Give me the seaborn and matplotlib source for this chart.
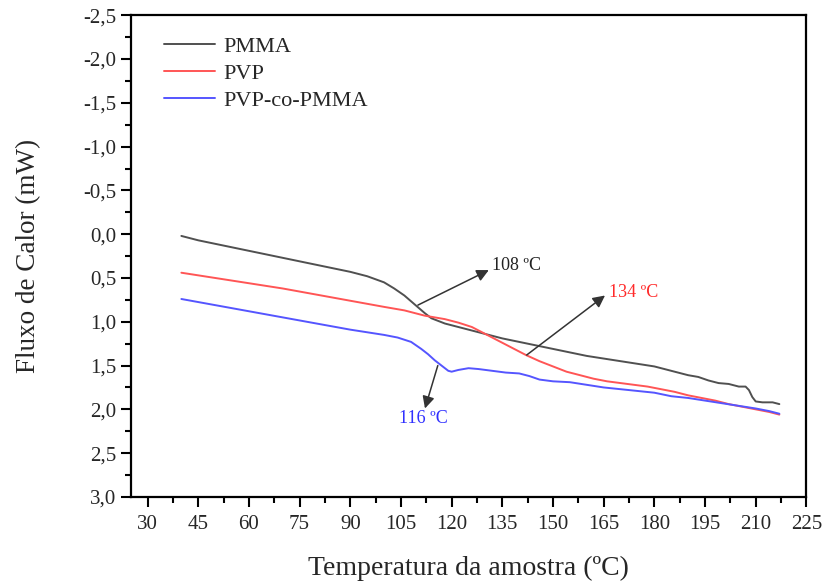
import numpy as np
import pandas as pd
import matplotlib
matplotlib.use("Agg")
import matplotlib.pyplot as plt
import seaborn as sns

# Dados (temperatura em ºC, fluxo de calor em mW)
t_pmma = [40, 45, 50, 55, 60, 65, 70, 75, 80, 85, 90, 95, 100, 103, 106, 109, 112, 114,
          116, 118, 120, 125, 130, 135, 140, 145, 150, 155, 160, 165, 170, 175, 180, 185,
          190, 193, 196, 199, 202, 205, 207, 208, 209, 210, 212, 215, 217]
y_pmma = [0.02, 0.07, 0.11, 0.15, 0.19, 0.23, 0.27, 0.31, 0.35, 0.39, 0.43, 0.48, 0.55,
          0.62, 0.70, 0.80, 0.90, 0.96, 0.99, 1.02, 1.04, 1.09, 1.14, 1.19, 1.23, 1.27,
          1.31, 1.35, 1.39, 1.42, 1.45, 1.48, 1.51, 1.56, 1.61, 1.63, 1.67, 1.70, 1.71,
          1.74, 1.74, 1.78, 1.86, 1.91, 1.92, 1.92, 1.94]

t_pvp = [40, 50, 60, 70, 80, 90, 100, 106, 112, 118, 122, 126, 130, 134, 138, 142, 146,
         150, 154, 158, 162, 166, 170, 174, 178, 182, 186, 190, 194, 198, 202, 206, 210,
         214, 217]
y_pvp = [0.44, 0.50, 0.56, 0.62, 0.69, 0.76, 0.83, 0.87, 0.93, 0.97, 1.01, 1.06, 1.14,
         1.22, 1.30, 1.38, 1.45, 1.51, 1.57, 1.61, 1.65, 1.68, 1.70, 1.72, 1.74, 1.77,
         1.80, 1.84, 1.87, 1.90, 1.94, 1.97, 2.00, 2.03, 2.06]

t_co = [40, 50, 60, 70, 80, 90, 100, 104, 108, 111, 113, 115, 117, 119, 120, 122, 125,
        128, 132, 136, 140, 143, 146, 150, 155, 160, 165, 170, 175, 180, 185, 190, 195,
        200, 205, 210, 214, 217]
y_co = [0.74, 0.81, 0.88, 0.95, 1.02, 1.09, 1.15, 1.18, 1.23, 1.31, 1.37, 1.44, 1.50,
        1.56, 1.57, 1.55, 1.53, 1.54, 1.56, 1.58, 1.59, 1.62, 1.66, 1.68, 1.69, 1.72,
        1.75, 1.77, 1.79, 1.81, 1.85, 1.87, 1.90, 1.93, 1.96, 1.99, 2.02, 2.05]

series_names = ["PMMA", "PVP", "PVP-co-PMMA"]
series_colors = ["#505050", "#ff5555", "#5555ff"]

x_ticks = list(range(30, 226, 15))
y_ticks = [-2.5, -2.0, -1.5, -1.0, -0.5, 0.0, 0.5, 1.0, 1.5, 2.0, 2.5, 3.0]
y_ticklabels = ["-2,5", "-2,0", "-1,5", "-1,0", "-0,5", "0,0", "0,5", "1,0", "1,5",
                "2,0", "2,5", "3,0"]

# anotações: texto, posição do texto, ponta da seta, cauda da seta, cor
ann_labels = ["108 ºC", "134 ºC", "116 ºC"]
ann_text_xy = [(132.0, 0.36), (166.5, 0.67), (111.5, 2.10)]
ann_head_xy = [(131.0, 0.41), (165.4, 0.70), (112.1, 1.99)]
ann_tail_xy = [(110.0, 0.81), (142.2, 1.38), (115.9, 1.50)]
ann_colors = ["#222222", "#ff2a2a", "#3030ff"]
ann_ha = ["left", "left", "center"]

sns.set_style("ticks")
plt.rcParams["font.family"] = ["Liberation Serif", "DejaVu Serif"]

fig = plt.figure(figsize=(8.22, 5.86), dpi=100)
ax = fig.add_axes([0.159, 0.152, 0.822, 0.822])

df = pd.concat([
    pd.DataFrame({"T": t_pmma, "y": y_pmma, "amostra": "PMMA"}),
    pd.DataFrame({"T": t_pvp, "y": y_pvp, "amostra": "PVP"}),
    pd.DataFrame({"T": t_co, "y": y_co, "amostra": "PVP-co-PMMA"}),
])

sns.lineplot(data=df, x="T", y="y", hue="amostra", hue_order=series_names,
             palette=dict(zip(series_names, series_colors)), estimator=None,
             sort=False, linewidth=1.4, ax=ax)

for lab, txy, hxy, sxy, col, ha in zip(ann_labels, ann_text_xy, ann_head_xy,
                                       ann_tail_xy, ann_colors, ann_ha):
    ax.annotate("", xy=hxy, xytext=sxy,
                arrowprops=dict(arrowstyle="-|>", color="#333333", lw=1.1,
                                mutation_scale=18, shrinkA=0, shrinkB=0))
    ax.text(txy[0], txy[1], lab, color=col, fontsize=13, ha=ha, va="center")

ax.set_xlim(25, 225)
ax.set_ylim(3.0, -2.5)
ax.set_xticks(x_ticks)
ax.set_xticklabels([str(v) for v in x_ticks])
ax.set_xticks(np.arange(37.5, 225, 15), minor=True)
ax.set_yticks(y_ticks)
ax.set_yticklabels(y_ticklabels)
ax.set_yticks(np.arange(-2.25, 3.0, 0.5), minor=True)

ax.tick_params(axis="both", which="major", direction="out", length=7, width=1.5,
               labelsize=15, color="black")
ax.tick_params(axis="both", which="minor", direction="out", length=4, width=1.5,
               color="black")
ax.tick_params(axis="x", pad=6)
for s in ax.spines.values():
    s.set_linewidth(1.6)
    s.set_color("black")

ax.set_xlabel("Temperatura da amostra (ºC)", fontsize=20, labelpad=16)
ax.set_ylabel("Fluxo de Calor (mW)", fontsize=19.5, labelpad=30)

leg = ax.legend(loc="upper left", bbox_to_anchor=(0.02, 0.998), frameon=False,
                fontsize=16, handlelength=2.3, handletextpad=0.35, labelspacing=0.3)
for line in leg.get_lines():
    line.set_linewidth(1.4)

fig.savefig("out.png", dpi=100)
